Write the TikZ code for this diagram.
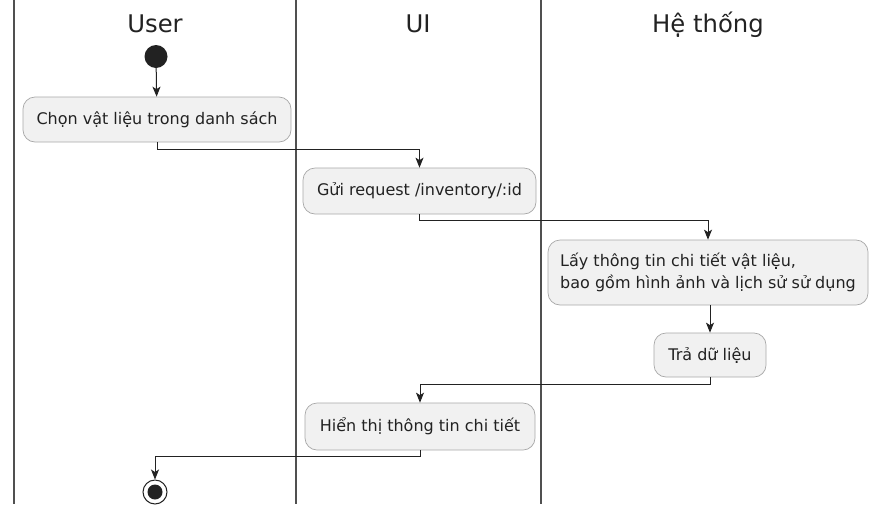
\documentclass[tikz,border=0pt]{standalone}
\usepackage{fontspec}
\setmainfont{DejaVu Sans}
\usetikzlibrary{arrows.meta}
\definecolor{laneline}{HTML}{505050}
\definecolor{boxline}{HTML}{A8A8A8}
\definecolor{boxfill}{HTML}{F1F1F1}
\definecolor{ink}{HTML}{222222}
\begin{document}
\begin{tikzpicture}[x=1pt,y=-1pt,
  lane/.style={draw=laneline,line width=2pt},
  lanetitle/.style={anchor=base,text=ink,font=\fontsize{24.3}{28}\selectfont},
  act/.style={draw=boxline,fill=boxfill,line width=0.7pt,rounded corners=12pt,
    text=ink,inner sep=0pt,align=center,font=\fontsize{16}{22}\selectfont},
  flow/.style={draw=ink,line width=1pt,-{Stealth[length=10pt,width=8pt,inset=2.5pt]}},
  startdot/.style={circle,fill=ink,inner sep=0pt,minimum size=23pt},
  enddot/.style={circle,draw=ink,line width=1pt,fill=white,inner sep=0pt,minimum size=24pt}]
  % canvas
  \fill[white] (0,0) rectangle (869,504);
  \useasboundingbox (0,0) rectangle (869,504);

  % swimlane borders
  \draw[lane] (14,0) -- (14,504);
  \draw[lane] (296,0) -- (296,504);
  \draw[lane] (541,0) -- (541,504);

  % swimlane titles
  \node[lanetitle] (tuser) at (155,32) {User};
  \node[lanetitle] (tui) at (418,32) {UI};
  \node[lanetitle] (tsys) at (708,32) {Hệ thống};

  % activities
  \node[startdot] (start) at (156,56.5) {};
  \node[act,minimum width=268pt,minimum height=45pt] (b1) at (157,119.5)
    {Chọn vật liệu trong danh sách};
  \node[act,minimum width=233pt,minimum height=46pt] (b2) at (419.5,191)
    {Gửi request /inventory/:id};
  \node[act,minimum width=320pt,minimum height=65pt,align=left] (b3) at (708,272.5)
    {Lấy thông tin chi tiết vật liệu,\\bao gồm hình ảnh và lịch sử sử dụng};
  \node[act,minimum width=112pt,minimum height=44pt] (b4) at (710,355)
    {Trả dữ liệu};
  \node[act,minimum width=230pt,minimum height=47pt] (b5) at (420,426.5)
    {Hiển thị thông tin chi tiết};
  \node[enddot] (end) at (155,492) {};
  \fill[ink] (end.center) circle (7.5pt);

  % control flow
  \draw[flow] (start) -- (b1);
  \draw[flow] (b1.south) -- ++(0,7) -| (b2.north);
  \draw[flow] (b2.south) -- ++(0,6) -| (b3.north);
  \draw[flow] (b4.north |- b3.south) -- (b4.north);
  \draw[flow] (b4.south) -- ++(0,7) -| (b5.north);
  \draw[flow] (b5.south) -- ++(0,6) -| (end.north);
\end{tikzpicture}
\end{document}
